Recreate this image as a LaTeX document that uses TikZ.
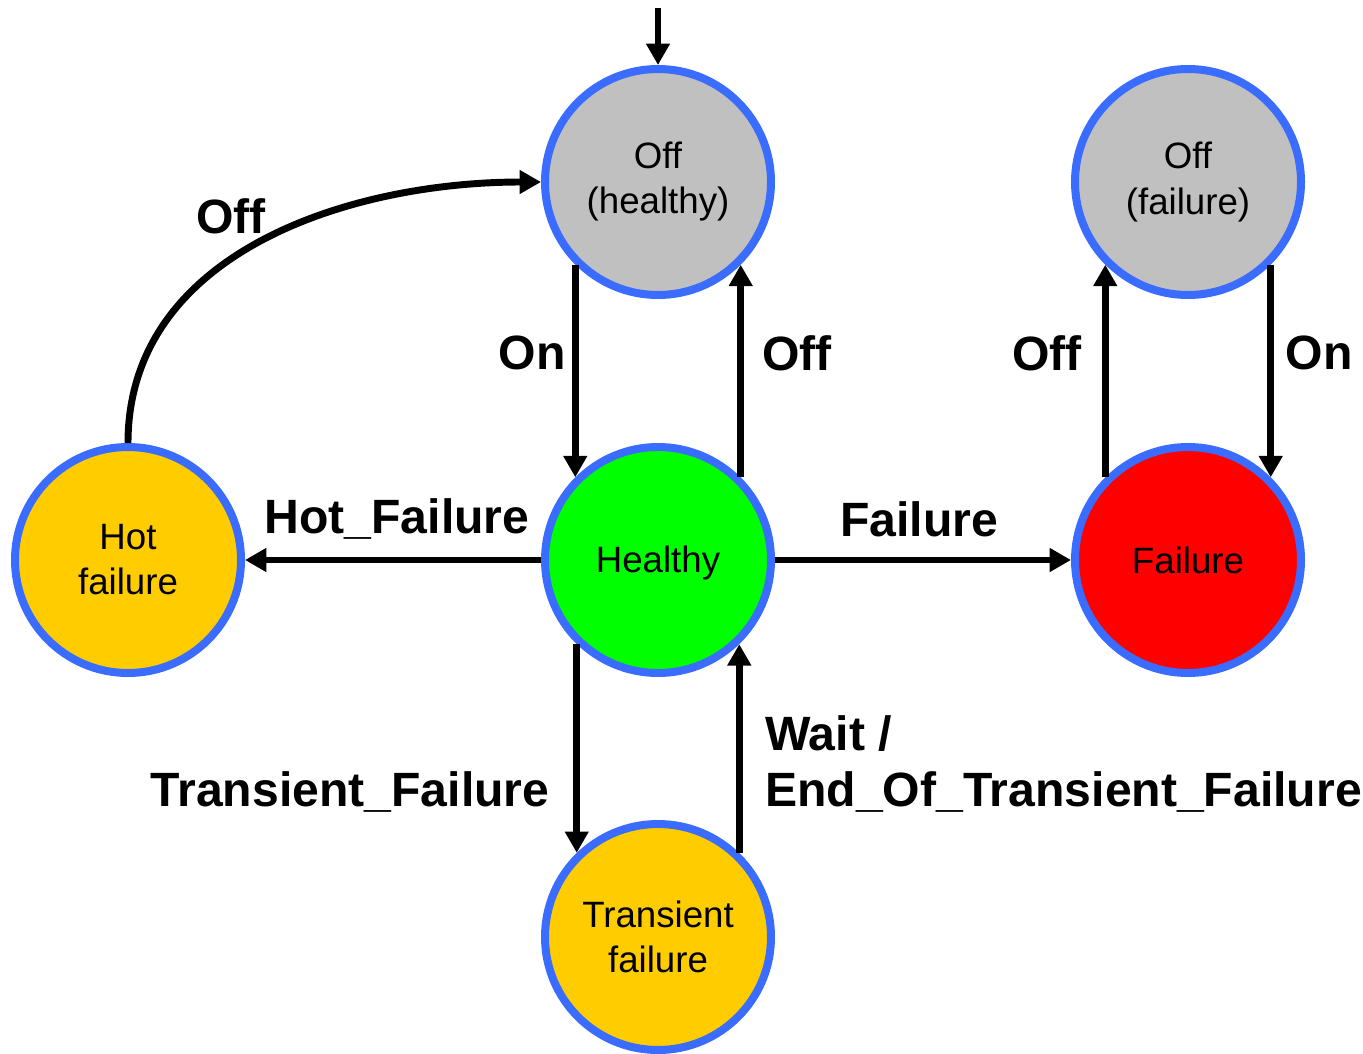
\documentclass[tikz,border=0pt]{standalone}
\usepackage{fontspec}
\setmainfont{Liberation Sans}
\usetikzlibrary{arrows.meta}
\definecolor{ringblue}{RGB}{58,108,255}
\definecolor{offgray}{RGB}{192,192,192}
\definecolor{okgreen}{RGB}{0,255,0}
\definecolor{errred}{RGB}{255,0,0}
\definecolor{warnyellow}{RGB}{255,204,0}
\begin{document}
\begin{tikzpicture}[x=0.75pt,y=-0.75pt,
  state/.style={circle,draw=ringblue,line width=6pt,minimum size=169.5pt,inner sep=0pt,
    align=center,font=\fontsize{27.5}{33.8}\selectfont},
  lowtext/.style={execute at begin node={\vspace*{5pt}}},
  trans/.style={line width=5.2pt,-{Triangle[length=16pt,width=17pt]}},
  tlabel/.style={font=\fontsize{36.1}{44}\selectfont\bfseries,inner sep=0pt}]
\useasboundingbox (0,0) rectangle (1363,1053);

% states
\node[state,lowtext,fill=offgray] (offh)  at (658,182) {Off\\(healthy)};
\node[state,lowtext,fill=offgray] (offf)  at (1188,182) {Off\\(failure)};
\node[state,fill=warnyellow]      (hot)   at (128,560) {Hot\\failure};
\node[state,fill=okgreen,execute at begin node={\rule{0pt}{24.5pt}}] (ok) at (658,560) {Healthy};
\node[state,fill=errred]          (fail)  at (1188,560) {Failure};
\node[state,fill=warnyellow]      (tfail) at (658,937) {Transient\\failure};

% initial transition
\coordinate (init) at (658,8);
\draw[trans] (init) -- (offh.north);

% transitions
\draw[trans] (offh.-135) -- (ok.135);
\draw[trans] (ok.45) -- (offh.-45);
\draw[trans] (fail.135) -- (offf.-135);
\draw[trans] (offf.-45) -- (fail.45);
\draw[trans] (ok.west) -- (hot.east);
\draw[trans] (ok.east) -- (fail.west);
\draw[trans] (ok.-134) -- (tfail.134);
\draw[trans] (tfail.46) -- (ok.-46);
\draw[trans] (hot.north) to[out=90,in=180] (offh.west);

% transition labels
\node[tlabel] (lOffHot) at (231,216) {Off};
\node[tlabel] (lOn1)    at (532,353) {On};
\node[tlabel] (lOff1)   at (797,353) {Off};
\node[tlabel] (lOff2)   at (1047,353) {Off};
\node[tlabel] (lOn2)    at (1319,353) {On};
\node[tlabel] (lHot)    at (397,519) {Hot\_Failure};
\node[tlabel] (lFail)   at (919,519) {Failure};
\node[tlabel] (lTrans)  at (350,792) {Transient\_Failure};
\node[tlabel,anchor=west] (lWait) at (765,734) {Wait /};
\node[tlabel,anchor=west] (lEnd)  at (765,792) {End\_Of\_Transient\_Failure};
\end{tikzpicture}
\end{document}
